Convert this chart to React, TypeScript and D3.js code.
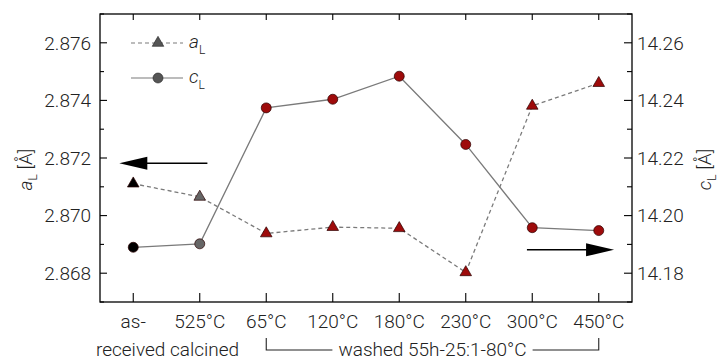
import { useEffect, useRef } from 'react';
import * as d3 from 'd3';

const categories = ['as-received', '525°C calcined', '65°C', '120°C', '180°C', '230°C', '300°C', '450°C'];
const labelTop = ['as-', '525°C', '65°C', '120°C', '180°C', '230°C', '300°C', '450°C'];
const labelBottom = ['received', 'calcined'];
const aL = [2.87111, 2.87065, 2.86938, 2.8696, 2.86956, 2.86803, 2.87381, 2.8746];
const cL = [14.189, 14.1902, 14.2374, 14.2404, 14.2484, 14.2247, 14.1958, 14.1948];
const leftTicks = [2.868, 2.87, 2.872, 2.874, 2.876];
const rightTicks = [14.18, 14.2, 14.22, 14.24, 14.26];
const washedLabel = 'washed 55h-25:1-80°C';

const W = 718, H = 360;
const FONT = 'Roboto, "Open Sans", sans-serif';
const RED = '#9e0b0b';

function markerFill(i: number) {
  return i === 0 ? '#000000' : i === 1 ? '#666666' : RED;
}

export default function App() {
  const ref = useRef<SVGSVGElement | null>(null);
  useEffect(() => {
    const svg = d3.select(ref.current!);
    svg.selectAll('*').remove();
    const m = { top: 14, right: 86, bottom: 58, left: 100 };
    const iw = W - m.left - m.right;
    const ih = H - m.top - m.bottom;
    const g = svg.append('g').attr('transform', `translate(${m.left},${m.top})`);

    const x = d3.scalePoint<string>().domain(categories).range([0, iw]).padding(0.5);
    const yL = d3.scaleLinear().domain([2.867, 2.877]).range([ih, 0]);
    const yR = d3.scaleLinear().domain([14.17, 14.27]).range([ih, 0]);
    const xi = (i: number) => (x(categories[0]) ?? 0) + i * x.step();

    // frame
    g.append('rect').attr('width', iw).attr('height', ih).attr('fill', 'none').attr('stroke', '#000').attr('stroke-width', 1.3);

    // ticks
    const minorL = d3.range(2.867, 2.8771, 0.001).filter((v) => !leftTicks.some((t) => Math.abs(t - v) < 1e-6));
    const minorR = d3.range(14.17, 14.2701, 0.01).filter((v) => !rightTicks.some((t) => Math.abs(t - v) < 1e-6));
    const tk = g.append('g').attr('stroke', '#000').attr('stroke-width', 1.1);
    leftTicks.forEach((v) => tk.append('line').attr('x1', 0).attr('x2', 7).attr('y1', yL(v)).attr('y2', yL(v)));
    minorL.forEach((v) => tk.append('line').attr('x1', 0).attr('x2', 4).attr('y1', yL(v)).attr('y2', yL(v)));
    rightTicks.forEach((v) => tk.append('line').attr('x1', iw).attr('x2', iw - 8).attr('y1', yR(v)).attr('y2', yR(v)));
    minorR.forEach((v) => tk.append('line').attr('x1', iw).attr('x2', iw - 5).attr('y1', yR(v)).attr('y2', yR(v)));
    categories.forEach((c) => {
      tk.append('line').attr('x1', x(c)!).attr('x2', x(c)!).attr('y1', ih).attr('y2', ih - 9);
      tk.append('line').attr('x1', x(c)!).attr('x2', x(c)!).attr('y1', 0).attr('y2', 6);
    });

    const txt = (sel: d3.Selection<any, any, any, any>) =>
      sel.attr('font-family', FONT).attr('font-weight', 300).attr('font-size', 19).attr('fill', '#222');

    leftTicks.forEach((v) => txt(g.append('text')).attr('x', -9).attr('y', yL(v)).attr('dy', '0.36em').attr('text-anchor', 'end').text(v.toFixed(3)));
    rightTicks.forEach((v) => txt(g.append('text')).attr('x', iw + 5).attr('y', yR(v)).attr('dy', '0.36em').text(v.toFixed(2)));

    categories.forEach((c, i) => {
      txt(g.append('text')).attr('x', x(c)!).attr('y', ih + 26).attr('text-anchor', 'middle').text(labelTop[i]);
    });
    // second line of the first two labels, set as one centred string
    const mid01 = (x(categories[0])! + x(categories[1])!) / 2;
    txt(g.append('text')).attr('x', mid01 + 1).attr('y', ih + 54).attr('text-anchor', 'middle').text(labelBottom.join(' '));

    // washed bracket
    const bx0 = x(categories[2])!, bx1 = x(categories[7])!;
    const bmid = (bx0 + bx1) / 2;
    const wl = txt(g.append('text')).attr('x', bmid).attr('y', ih + 54).attr('text-anchor', 'middle').text(washedLabel);
    const tw = (wl.node() as SVGTextElement).getComputedTextLength();
    const by = ih + 48;
    const br = g.append('g').attr('stroke', '#222').attr('stroke-width', 1.1).attr('fill', 'none');
    br.append('path').attr('d', `M${bx0},${ih + 36}V${by}H${bmid - tw / 2 - 6}`);
    br.append('path').attr('d', `M${bx1},${ih + 36}V${by}H${bmid + tw / 2 + 6}`);

    // axis titles
    const title = (tx: number, letter: string) => {
      const t = txt(svg.append('text')).attr('transform', `translate(${tx},${m.top + yL(2.8716)}) rotate(-90)`).attr('text-anchor', 'middle');
      t.append('tspan').attr('font-style', 'italic').text(letter);
      t.append('tspan').attr('font-size', 12).attr('dy', 5).text('L');
      t.append('tspan').attr('dy', -5).text(' [Å]');
    };
    title(32, 'a');
    title(711, 'c');

    // lines
    const lineL = d3.line<number>().x((_, i) => x(categories[i])!).y((d) => yL(d));
    const lineR = d3.line<number>().x((_, i) => x(categories[i])!).y((d) => yR(d));
    g.append('path').datum(aL).attr('fill', 'none').attr('stroke', '#7a7a7a').attr('stroke-width', 1.3).attr('stroke-dasharray', '4,3').attr('d', lineL);
    g.append('path').datum(cL).attr('fill', 'none').attr('stroke', '#7a7a7a').attr('stroke-width', 1.3).attr('d', lineR);

    const tri = d3.symbol().type(d3.symbolTriangle).size(58);
    g.selectAll('.tri').data(aL).enter().append('path')
      .attr('transform', (d, i) => `translate(${x(categories[i])},${yL(d)})`)
      .attr('d', tri() as string).attr('fill', (_, i) => markerFill(i)).attr('stroke', '#2a0000').attr('stroke-width', 0.7);
    g.selectAll('.dot').data(cL).enter().append('circle')
      .attr('cx', (_, i) => x(categories[i])!).attr('cy', (d) => yR(d)).attr('r', 5)
      .attr('fill', (_, i) => markerFill(i)).attr('stroke', '#2a0000').attr('stroke-width', 0.7);

    // arrows
    const arrow = (from: number, to: number, yy: number) => {
      const x0 = xi(from), x1 = xi(to);
      const dir = Math.sign(x1 - x0);
      g.append('line').attr('x1', x0).attr('x2', x1 - dir * 20).attr('y1', yy).attr('y2', yy).attr('stroke', '#000').attr('stroke-width', 1.5);
      g.append('path').attr('d', `M${x1},${yy}L${x1 - dir * 28},${yy - 6.5}L${x1 - dir * 28},${yy + 6.5}Z`).attr('fill', '#000');
    };
    arrow(1.115, -0.21, yL(2.87182));
    arrow(5.92, 7.23, yR(14.1881));

    // legend
    const leg = g.append('g');
    const rows = [{ y: 29, letter: 'a', dash: '4,3', sym: 'tri' }, { y: 64, letter: 'c', dash: null, sym: 'dot' }];
    rows.forEach((r) => {
      leg.append('line').attr('x1', 31).attr('x2', 83).attr('y1', r.y).attr('y2', r.y).attr('stroke', '#7a7a7a').attr('stroke-width', 1.2).attr('stroke-dasharray', r.dash);
      if (r.sym === 'tri') leg.append('path').attr('transform', `translate(58,${r.y})`).attr('d', tri() as string).attr('fill', '#555').attr('stroke', '#222').attr('stroke-width', 0.6);
      else leg.append('circle').attr('cx', 58).attr('cy', r.y).attr('r', 5).attr('fill', '#555').attr('stroke', '#222').attr('stroke-width', 0.6);
      const t = txt(leg.append('text')).attr('x', 89).attr('y', r.y + 5);
      t.append('tspan').attr('font-style', 'italic').text(r.letter);
      t.append('tspan').attr('font-size', 12).attr('dy', 6).text('L');
    });
  }, []);
  return <svg ref={ref} width={W} height={H} style={{ position: 'absolute', left: 0, top: 0, background: '#fff' }} />;
}
